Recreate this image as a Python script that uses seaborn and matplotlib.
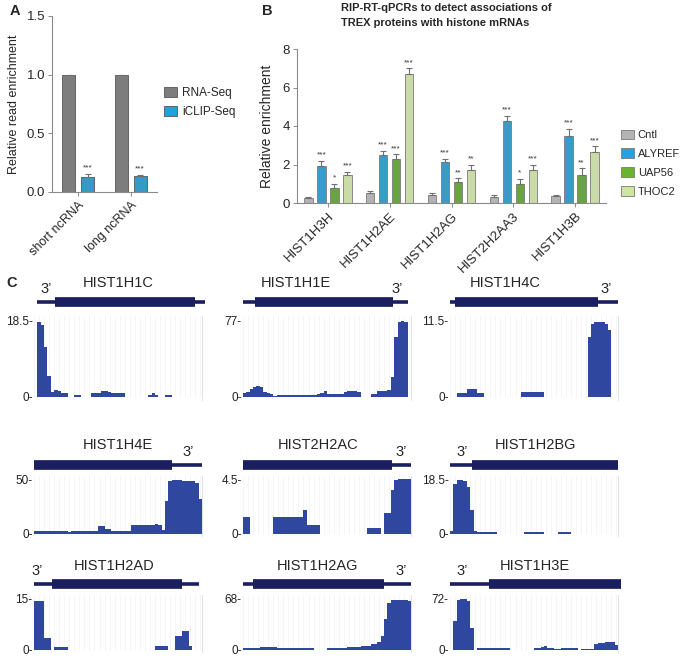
import numpy as np
import pandas as pd
import matplotlib
matplotlib.use("Agg")
import matplotlib.pyplot as plt
from matplotlib.patches import Patch
import seaborn as sns

sns.set_theme(style="white")
plt.rcParams['font.family'] = ['Liberation Sans', 'DejaVu Sans']

n = np.nan

# ---- panel A data ----
a_cats = ['short ncRNA', 'long ncRNA']
a_assays = ['RNA-Seq', 'iCLIP-Seq']
a_rnaseq = [1.0, 1.0]
a_iclip = [0.13, 0.135]
a_iclip_err = [0.02, 0.006]
a_stars = ['***', '***']
a_colors = ['#7d7d7d', '#1ea3e0']

# ---- panel B data ----
b_genes = ['HIST1H3H', 'HIST1H2AE', 'HIST1H2AG', 'HIST2H2AA3', 'HIST1H3B']
b_groups = ['Cntl', 'ALYREF', 'UAP56', 'THOC2']
b_cntl = [0.28, 0.50, 0.42, 0.30, 0.38]
b_alyref = [1.93, 2.50, 2.13, 4.27, 3.47]
b_uap56 = [0.80, 2.27, 1.10, 1.00, 1.45]
b_thoc2 = [1.45, 6.70, 1.72, 1.72, 2.65]
b_cntl_err = [0.05, 0.10, 0.08, 0.10, 0.06]
b_alyref_err = [0.25, 0.20, 0.15, 0.25, 0.40]
b_uap56_err = [0.20, 0.25, 0.18, 0.25, 0.35]
b_thoc2_err = [0.15, 0.30, 0.25, 0.25, 0.30]
b_alyref_stars = ['***', '***', '***', '***', '***']
b_uap56_stars = ['*', '***', '**', '*', '**']
b_thoc2_stars = ['***', '***', '**', '***', '***']
b_colors = ['#b3b3b3', '#22a2e0', '#67b52f', '#cfe49e']

# ---- panel C coverage tracks (50 bins along each gene) ----
track_names = ['HIST1H1C', 'HIST1H1E', 'HIST1H4C',
               'HIST1H4E', 'HIST2H2AC', 'HIST1H2BG',
               'HIST1H2AD', 'HIST1H2AG', 'HIST1H3E']
track_max = [18.5, 77, 11.5, 50, 4.5, 18.5, 15, 68, 72]
track_max_labels = ['18.5', '77', '11.5', '50', '4.5', '18.5', '15', '68', '72']

cov_hist1h1c = [n, 18.2, 17.5, 12, 5, 1.0, 1.5, 1.3, 0.8, 0.8, n, n, 0.3, 0.3, n, n, n,
                0.8, 0.8, 0.9, 1.3, 1.3, 1.2, 0.8, 0.8, 0.8, 0.8, n, n, n, n, n, n, n,
                0.5, 0.8, 0.5, n, n, 0.3, 0.3, n, n, n, n, n, n, n, n, n]
cov_hist1h1e = [4, 5, 8, 10, 11, 10, 5, 4, 3, 1, 2, 2, 2, 1.5, 1.5, 1.5, 1.5, 1.5, 1.5,
                1.5, 1.5, 1.5, 3, 4, 6, 3, 3, 3, 3, 3, 5, 6, 6, 6, 5, n, n, n, 3, 3,
                6, 6, 6, 7, 20, 60, 76, 77, 76, n]
cov_hist1h4c = [n, n, 0.6, 0.6, 0.6, 1.2, 1.2, 1.2, 0.6, 0.6, n, n, n, n, n, n, n, n, n,
                n, n, 0.7, 0.7, 0.7, 0.7, 0.7, 0.7, 0.7, n, n, n, n, n, n, n, n, n, n,
                n, n, n, 9, 11, 11.3, 11.3, 11.3, 11, 10, n, n]
cov_hist1h4e = [2.5, 2.5, 2.5, 2.5, 2.5, 2.5, 2.5, 2.5, 2.5, 2.5, 1.5, 2.5, 2.5, 2.5,
                2.5, 2.5, 2.5, 2.5, 2.5, 6.5, 6.5, 4.5, 4, 2.5, 2.5, 2.5, 2.5, 2.5, 2.5,
                7.5, 7.5, 7.5, 7.5, 7.5, 7.5, 7.5, 8.5, 7.5, 3, 30, 48, 49, 49, 49, 48,
                48, 48, 48, 47, 32]
cov_hist2h2ac = [1.4, 1.4, n, n, n, n, n, n, n, 1.35, 1.35, 1.35, 1.35, 1.35, 1.35,
                 1.35, 1.35, 1.35, 1.95, 0.7, 0.7, 0.7, 0.7, n, n, n, n, n, n, n, n, n,
                 n, n, n, n, n, 0.5, 0.5, 0.5, 0.5, n, 1.7, 1.7, 3.6, 4.4, 4.5, 4.5,
                 4.5, 4.5]
cov_hist1h2bg = [1.0, 17, 18.3, 18.3, 18, 16, 8, 1, 0.5, 0.6, 0.7, 0.7, 0.6, 0.5, n, n,
                 n, n, n, n, n, n, 0.5, 0.5, 0.5, 0.5, 0.5, 0.5, n, n, n, n, 0.5, 0.5,
                 0.5, 0.5, n, n, n, n, n, n, n, n, n, n, n, n, n, n]
cov_hist1h2ad = [14.3, 14.3, 14.3, 3.3, 3.3, n, 0.7, 0.7, 0.7, 0.7, n, n, n, n, n, n, n,
                 n, n, n, n, n, n, n, n, n, n, n, n, n, n, n, n, n, n, n, 1.0, 1.0, 1.0,
                 1.0, n, n, 4, 4, 5.3, 5.3, 1, n, n, n]
cov_hist1h2ag = [2, 2, 2, 2, 2, 3, 3, 3, 3, 3, 2, 2, 2, 2, 2, 2, 2, 2, 2, 2, 2, n, n, n,
                 n, 2, 2, 2, 2, 2, 2, 3, 3, 3, 3, 5, 5, 5, 8, 8, 10, 18, 40, 62, 66, 66,
                 65, 65, 65, 64]
cov_hist1h3e = [n, 40, 70, 71, 71, 68, 30, n, 3, 3, 3, 3, 3, 3, 3, 3, 3, 3, n, n, n, n,
                n, n, n, 3, 3, 4, 5, 3, 3, 1.5, 1.5, 3, 3, 3, 3, 3, n, 1.5, 1.5, 1.5,
                1.5, 8, 9, 9, 11, 11, 11, 7]
track_cov = [cov_hist1h1c, cov_hist1h1e, cov_hist1h4c, cov_hist1h4e, cov_hist2h2ac,
             cov_hist1h2bg, cov_hist1h2ad, cov_hist1h2ag, cov_hist1h3e]

# gene models (fraction of track width): full span, coding span, 3' label position
gene_span = [(0.02, 1.02), (0.0, 0.98), (0.0, 1.0), (0.0, 1.0), (0.0, 1.0),
             (0.0, 1.0), (0.0, 0.98), (0.0, 1.0), (0.0, 1.02)]
gene_cds = [(0.125, 0.96), (0.07, 0.89), (0.03, 0.88), (0.0, 0.82), (0.0, 0.885),
            (0.13, 1.0), (0.11, 0.88), (0.06, 0.84), (0.23, 1.02)]
gene_3p = [0.07, 0.92, 0.93, 0.92, 0.94, 0.07, 0.02, 0.94, 0.07]

W, H = 685, 658
fig = plt.figure(figsize=(W / 100, H / 100), dpi=100)


def px_axes(x0, y0, x1, y1):
    return fig.add_axes([x0 / W, 1 - y1 / H, (x1 - x0) / W, (y1 - y0) / H])


def style_bar_axes(ax):
    sns.despine(ax=ax)
    for s in ['left', 'bottom']:
        ax.spines[s].set_color('#8a8a8a')
        ax.spines[s].set_linewidth(0.8)
    ax.tick_params(axis='both', which='both', length=3, width=0.7, color='#8a8a8a',
                   bottom=True, left=True, pad=2)


def add_errors(ax, err_lists, star_lists, star_size):
    for cont, errs, stars in zip(ax.containers, err_lists, star_lists):
        for bar, e, s in zip(cont, errs, stars):
            x = bar.get_x() + bar.get_width() / 2
            h = bar.get_height()
            ax.errorbar(x, h, yerr=[[0], [e]], fmt='none', ecolor='#707070',
                        elinewidth=0.8, capsize=2, capthick=0.8)
            if s:
                ax.text(x, h + e + ax.get_ylim()[1] * 0.015, s, ha='center', va='bottom',
                        fontsize=star_size, color='#333333')


# ---------------- Panel A ----------------
axA = px_axes(52, 16, 157, 192)
dfA = pd.DataFrame({
    'cat': a_cats * 2,
    'assay': [a_assays[0]] * 2 + [a_assays[1]] * 2,
    'value': a_rnaseq + a_iclip,
})
sns.barplot(data=dfA, x='cat', y='value', hue='assay', palette=a_colors, ax=axA,
            width=0.72, gap=0.3, errorbar=None, legend=False,
            edgecolor='#555555', linewidth=0.6)
axA.set_ylim(0, 1.5)
axA.set_xlim(-0.5, 1.5)
axA.set_yticks([0, 0.5, 1.0, 1.5])
axA.set_yticklabels(['0.0', '0.5', '1.0', '1.5'], fontsize=9.5)
axA.set_xticks([0, 1])
axA.set_xticklabels(a_cats, rotation=45, ha='right', rotation_mode='anchor', fontsize=9)
axA.set_xlabel('')
axA.set_ylabel('Relative read enrichment', fontsize=9, labelpad=5)
style_bar_axes(axA)
add_errors(axA, [[0, 0], a_iclip_err], [['', ''], a_stars], 6)
axA.legend(handles=[Patch(facecolor=c, edgecolor='#555555', linewidth=0.6) for c in a_colors],
           labels=a_assays, loc='upper left', bbox_to_anchor=(158 / W, 1 - 81 / H),
           bbox_transform=fig.transFigure, frameon=False, fontsize=8.5, borderpad=0,
           handlelength=1.1, handleheight=0.9, labelspacing=0.6, handletextpad=0.45)

# ---------------- Panel B ----------------
axB = px_axes(297, 49, 606, 203)
dfB = pd.DataFrame({
    'gene': b_genes * 4,
    'group': sum([[g] * 5 for g in b_groups], []),
    'value': b_cntl + b_alyref + b_uap56 + b_thoc2,
})
sns.barplot(data=dfB, x='gene', y='value', hue='group', palette=b_colors, ax=axB,
            width=0.84, gap=0.35, errorbar=None, legend=False,
            edgecolor='#7a7a7a', linewidth=0.6)
axB.set_ylim(0, 8)
axB.set_xlim(-0.5, 4.5)
axB.set_yticks([0, 2, 4, 6, 8])
axB.tick_params(axis='y', labelsize=9.5)
axB.set_xticks(range(5))
axB.set_xticklabels(b_genes, rotation=45, ha='right', rotation_mode='anchor', fontsize=9.5)
axB.set_xlabel('')
axB.set_ylabel('Relative enrichment', fontsize=10, labelpad=6)
style_bar_axes(axB)
add_errors(axB, [b_cntl_err, b_alyref_err, b_uap56_err, b_thoc2_err],
           [[''] * 5, b_alyref_stars, b_uap56_stars, b_thoc2_stars], 6)
axB.legend(handles=[Patch(facecolor=c, edgecolor='#7a7a7a', linewidth=0.6) for c in b_colors],
           labels=b_groups, loc='upper left', bbox_to_anchor=(615 / W, 1 - 124 / H),
           bbox_transform=fig.transFigure, frameon=False, fontsize=8, borderpad=0,
           handlelength=1.2, handleheight=1.0, labelspacing=0.72, handletextpad=0.35)
fig.text(341 / W, 1 - 3 / H, 'RIP-RT-qPCRs to detect associations of\nTREX proteins with histone mRNAs',
         ha='left', va='top', fontsize=8, fontweight='bold', linespacing=1.6)

# panel letters
fig.text(10 / W, 1 - 4 / H, 'A', fontsize=10.5, fontweight='bold', va='top')
fig.text(262 / W, 1 - 4 / H, 'B', fontsize=10.5, fontweight='bold', va='top')
fig.text(6 / W, 1 - 276 / H, 'C', fontsize=10.5, fontweight='bold', va='top')

# ---------------- Panel C ----------------
col_x = [(34, 202), (243, 411), (450, 618)]
# per row: title y, gene bar y, coverage axes top, bottom
row_y = [(283, 302, 316, 400), (445, 465, 476, 536), (566, 584, 595, 652)]
title_x = [118, 296, 505, 118, 318, 535, 114, 318, 535]
nbin = 50
navy = '#1b1f60'
cov_col = '#2f479f'

for i, name in enumerate(track_names):
    r, c = divmod(i, 3)
    x0, x1 = col_x[c]
    ty, gy, cy0, cy1 = row_y[r]
    vals = np.nan_to_num(np.array(track_cov[i], dtype=float), nan=0.0)
    vmax = track_max[i]

    # coverage
    ax = px_axes(x0, cy0, x1, cy1)
    ax.set_facecolor('white')
    ax.vlines(np.arange(0, nbin + 1, 1.5), 0, vmax * 1.1, color='#f4f4f4', lw=0.6, zorder=0)
    ax.bar(np.arange(nbin), vals, width=1.0, align='edge', color=cov_col, linewidth=0, zorder=2)
    ax.set_xlim(0, nbin)
    ax.set_ylim(-vmax * 0.045, vmax * 1.06)
    for s in ['top', 'left', 'bottom']:
        ax.spines[s].set_visible(False)
    ax.spines['right'].set_color('#dddddd')
    ax.spines['right'].set_linewidth(0.6)
    ax.set_xticks([])
    ax.set_yticks([0, vmax])
    ax.set_yticklabels(['0-', track_max_labels[i] + '-'], fontsize=8.5, color='#222222')
    ax.tick_params(axis='y', length=0, pad=1)

    # gene model
    gx = px_axes(x0, gy - 7, x1, gy + 7)
    gx.axis('off')
    gx.set_xlim(0, nbin)
    gx.set_ylim(-1, 1)
    s0, s1 = gene_span[i]
    c0, c1 = gene_cds[i]
    gx.plot([s0 * nbin, s1 * nbin], [0, 0], color=navy, lw=2.6, solid_capstyle='butt', clip_on=False)
    gx.plot([c0 * nbin, c1 * nbin], [0, 0], color=navy, lw=7.0, solid_capstyle='butt', clip_on=False)
    gx.text(gene_3p[i] * nbin, 0.9, '3\u2019', ha='center', va='bottom', fontsize=10.5)

    fig.text(title_x[i] / W, 1 - ty / H, name, ha='center', va='center', fontsize=10.5)

fig.savefig('out.png', dpi=100)
